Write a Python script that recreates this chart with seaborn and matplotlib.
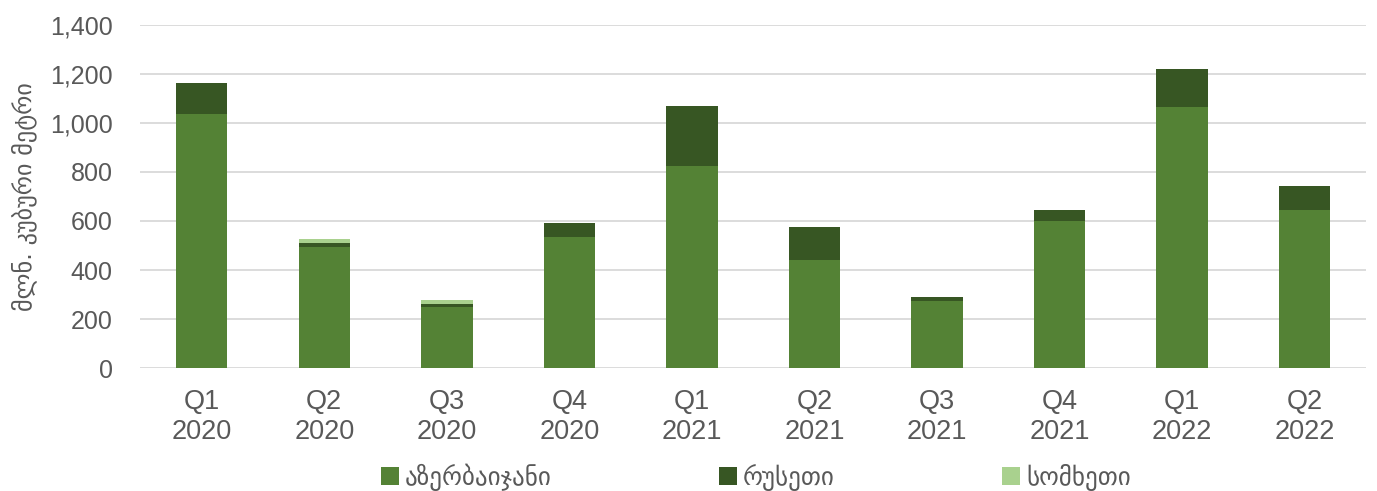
import matplotlib
matplotlib.use("Agg")
import matplotlib.pyplot as plt
import seaborn as sns
import pandas as pd
import numpy as np
from matplotlib.patches import Patch

quarters = ["Q1\n2020", "Q2\n2020", "Q3\n2020", "Q4\n2020", "Q1\n2021",
            "Q2\n2021", "Q3\n2021", "Q4\n2021", "Q1\n2022", "Q2\n2022"]
azerbaijan = [1035, 495, 250, 535, 825, 440, 272, 600, 1064, 644]
russia = [125, 16, 10, 57, 245, 134, 18, 45, 156, 100]
armenia = [0, 17, 18, 0, 0, 0, 0, 0, 0, 0]
series_names = ["აზერბაიჯანი", "რუსეთი", "სომხეთი"]
ylabel = "მლნ. კუბური მეტრი"

colors = ["#548235", "#375623", "#a9d18e"]

sns.set_theme(style="white")
plt.rcParams["font.family"] = ["Liberation Sans", "DejaVu Sans"]

df = pd.DataFrame({"q": quarters, "az": azerbaijan, "ru": russia, "am": armenia})
df["c1"] = df["az"]
df["c2"] = df["az"] + df["ru"]
df["c3"] = df["c2"] + df["am"]

fig = plt.figure(figsize=(13.77, 4.91), dpi=100)
ax = fig.add_axes([0.102, 0.25, 0.89, 0.70])

for col, color in [("c3", colors[2]), ("c2", colors[1]), ("c1", colors[0])]:
    sns.barplot(data=df, x="q", y=col, color=color, width=0.42, ax=ax,
                saturation=1, linewidth=0, edgecolor="none")

ax.set_ylim(0, 1400)
ax.set_yticks(np.arange(0, 1401, 200))
ax.set_yticklabels([f"{v:,}" for v in range(0, 1401, 200)])
ax.set_xlim(-0.5, len(quarters) - 0.5)
ax.yaxis.grid(True, color="#d9d9d9", linewidth=1.3)
ax.set_axisbelow(True)
for s in ["top", "right", "left", "bottom"]:
    ax.spines[s].set_visible(False)
ax.tick_params(axis="both", length=0, labelcolor="#595959")
ax.tick_params(axis="y", pad=20, labelsize=18)
ax.tick_params(axis="x", pad=15, labelsize=19.5)
ax.set_xlabel("")
ax.set_ylabel(ylabel, fontsize=17.5, color="#595959", labelpad=9,
              family=["DejaVu Sans"])

handles = [Patch(facecolor=c, edgecolor="none") for c in colors]
leg = fig.legend(handles, series_names, loc="lower center", ncol=3,
                 bbox_to_anchor=(0.549, -0.045), frameon=False,
                 prop={"family": "DejaVu Sans", "size": 18},
                 handlelength=0.7, handleheight=0.7, handletextpad=0.25,
                 columnspacing=6.7)
for t in leg.get_texts():
    t.set_color("#595959")

fig.savefig("out.png", dpi=100)
